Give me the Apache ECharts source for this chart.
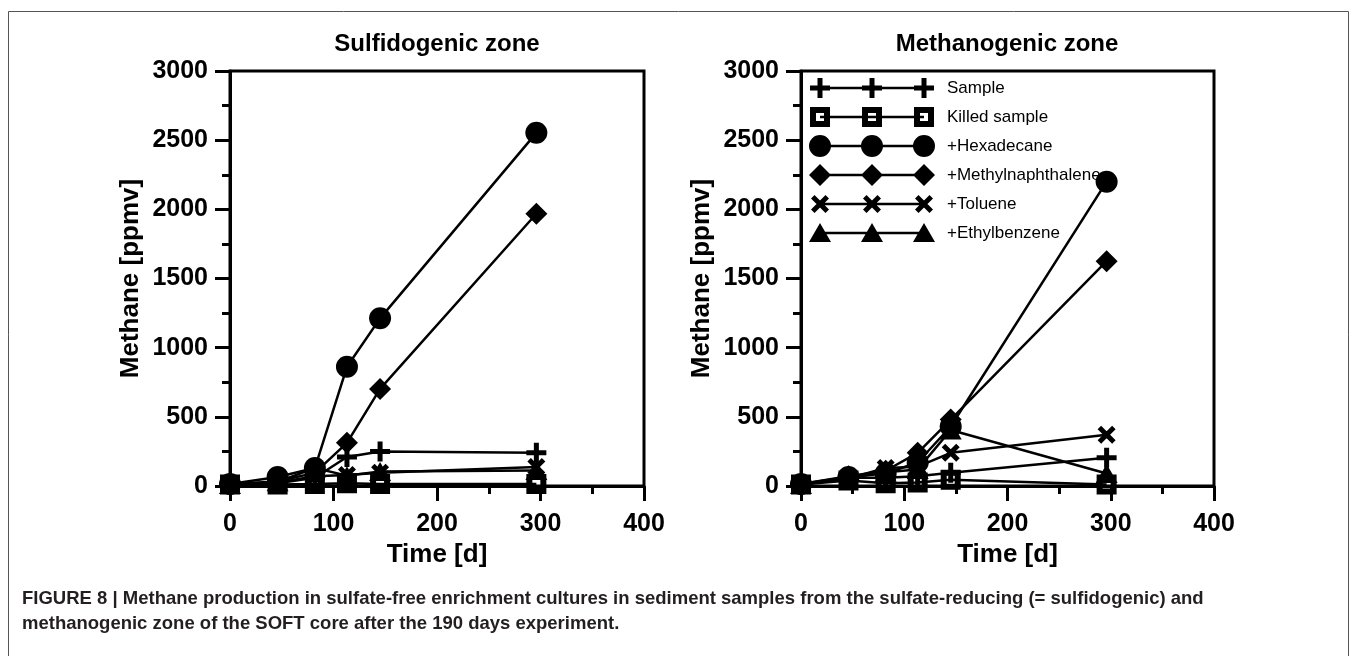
<!DOCTYPE html>
<html>
<head>
<meta charset="utf-8">
<script src="https://cdn.jsdelivr.net/npm/echarts@6/dist/echarts.min.js"></script>
<style>
html,body{margin:0;padding:0;background:#fff;}
#chart{width:1357px;height:656px;}
</style>
</head>
<body>
<div id="chart"></div>
<script>
// ---------- data ----------
const timeDays = [0, 46, 82, 113, 145, 296];
const seriesNames = ['Sample', 'Killed sample', '+Hexadecane', '+Methylnaphthalene', '+Toluene', '+Ethylbenzene'];
const panelTitles = ['Sulfidogenic zone', 'Methanogenic zone'];
const xTicks = [0, 100, 200, 300, 400];
const yTicks = [0, 500, 1000, 1500, 2000, 2500, 3000];

// Sulfidogenic zone (ppmv)
const sulfSample      = [10, 20, 60, 210, 250, 240];
const sulfKilled      = [10, 10, 15, 20, 15, 15];
const sulfHexadecane  = [15, 65, 130, 862, 1212, 2553];
const sulfMethylnaph  = [10, 35, 95, 312, 702, 1968];
const sulfToluene     = [10, 25, 70, 80, 95, 137];
const sulfEthylbenz   = [10, 30, 130, 75, 105, 112];

// Methanogenic zone (ppmv)
const methSample      = [10, 60, 60, 70, 95, 205];
const methKilled      = [10, 40, 20, 25, 45, 10];
const methHexadecane  = [15, 65, 90, 170, 430, 2200];
const methMethylnaph  = [15, 70, 110, 240, 480, 1625];
const methToluene     = [10, 55, 130, 140, 240, 370];
const methEthylbenz   = [10, 60, 100, 120, 405, 90];

const caption1 = 'FIGURE 8 | Methane production in sulfate-free enrichment cultures in sediment samples from the sulfate-reducing (= sulfidogenic) and';
const caption2 = 'methanogenic zone of the SOFT core after the 190 days experiment.';

// ---------- styling helpers ----------
const FONT = '"Liberation Sans", Arial, Helvetica, sans-serif';

function plusShape(cx, cy){ const a=10,t=2.5; return `M${cx-t},${cy-a} H${cx+t} V${cy-t} H${cx+a} V${cy+t} H${cx+t} V${cy+a} H${cx-t} V${cy+t} H${cx-a} V${cy-t} H${cx-t} Z `; }
function squareShape(cx, cy){ const a=10,b=4; return `M${cx-a},${cy-a} H${cx+a} V${cy+a} H${cx-a} Z M${cx-b},${cy-b} V${cy+b} H${cx+b} V${cy-b} Z `; }
function circleShape(cx, cy){ const r=11; return `M${cx-r},${cy} A${r},${r} 0 1,1 ${cx+r},${cy} A${r},${r} 0 1,1 ${cx-r},${cy} Z `; }
function diamondShape(cx, cy){ const r=11; return `M${cx},${cy-r} L${cx+r},${cy} L${cx},${cy+r} L${cx-r},${cy} Z `; }
function crossShape(cx, cy){ const a=9,t=3.5; return `M${cx-a},${cy-a+t} L${cx-a+t},${cy-a} L${cx+a},${cy+a-t} L${cx+a-t},${cy+a} Z M${cx+a-t},${cy-a} L${cx+a},${cy-a+t} L${cx-a+t},${cy+a} L${cx-a},${cy+a-t} Z `; }
function triangleShape(cx, cy){ return `M${cx},${cy-10} L${cx+11},${cy+9} L${cx-11},${cy+9} Z `; }
const shapeFns = [plusShape, squareShape, circleShape, diamondShape, crossShape, triangleShape];
const symbolSizes = [[20,20],[20,20],[22,22],[22,22],[18,18],[22,19]];

function seriesSymbol(i){
  const s = symbolSizes[i];
  const cy = (i===5) ? 10 : s[1]/2;
  return 'path://' + shapeFns[i](s[0]/2, cy);
}
function legendIcon(i){
  let p = 'M0,0 M126,22 ';
  p += 'M11,9.75 H115 V12.25 H11 Z ';
  [11, 63, 115].forEach(cx => { p += shapeFns[i](cx, 11); });
  return 'path://' + p;
}

function axisCommon(){
  return {
    axisLine: {show: true, onZero: false, lineStyle: {color: '#000', width: 3}},
    axisTick: {show: true, inside: false, length: 15, lineStyle: {color: '#000', width: 3}},
    minorTick: {show: true, splitNumber: 2, length: 8, lineStyle: {color: '#000', width: 3}},
    splitLine: {show: false},
    minorSplitLine: {show: false},
    axisLabel: {color: '#000', fontFamily: FONT, fontWeight: 'bold', fontSize: 25, formatter: v => String(v)},
    nameTextStyle: {color: '#000', fontFamily: FONT, fontWeight: 'bold', fontSize: 26}
  };
}

const grids = [
  {left: 230, top: 71, width: 414, height: 415, show: true, borderColor: '#000', borderWidth: 3, backgroundColor: 'transparent'},
  {left: 801, top: 71, width: 413, height: 415, show: true, borderColor: '#000', borderWidth: 3, backgroundColor: 'transparent'}
];

const xAxes = [0, 1].map(g => Object.assign(axisCommon(), {
  type: 'value', gridIndex: g, min: xTicks[0], max: xTicks[xTicks.length-1], interval: xTicks[1]-xTicks[0],
  name: 'Time [d]', nameLocation: 'middle', nameGap: 56
}));
xAxes.forEach(a => { a.axisLabel.margin = 26; });

const yAxes = [0, 1].map(g => Object.assign(axisCommon(), {
  type: 'value', gridIndex: g, min: yTicks[0], max: yTicks[yTicks.length-1], interval: yTicks[1]-yTicks[0],
  name: 'Methane [ppmv]', nameLocation: 'middle', nameGap: 86, nameRotate: 90
}));
yAxes.forEach(a => { a.axisLabel.margin = 22; });

const panelData = [
  [sulfSample, sulfKilled, sulfHexadecane, sulfMethylnaph, sulfToluene, sulfEthylbenz],
  [methSample, methKilled, methHexadecane, methMethylnaph, methToluene, methEthylbenz]
];

const series = [];
panelData.forEach((set, g) => {
  set.forEach((vals, i) => {
    series.push({
      name: seriesNames[i],
      type: 'line',
      xAxisIndex: g, yAxisIndex: g,
      data: timeDays.map((t, k) => [t, vals[k]]),
      symbol: seriesSymbol(i),
      symbolSize: symbolSizes[i],
      showAllSymbol: true,
      clip: false,
      lineStyle: {color: '#000', width: 2.5},
      itemStyle: {color: '#000', opacity: 1},
      emphasis: {disabled: true},
      z: 2 + i
    });
  });
});

const option = {
  animation: false,
  backgroundColor: '#fff',
  title: [
    {text: panelTitles[0], left: 437, top: 32, textAlign: 'center', padding: 0,
     textStyle: {color: '#000', fontFamily: FONT, fontWeight: 'bold', fontSize: 24}},
    {text: panelTitles[1], left: 1007, top: 32, textAlign: 'center', padding: 0,
     textStyle: {color: '#000', fontFamily: FONT, fontWeight: 'bold', fontSize: 24}}
  ],
  legend: {
    orient: 'vertical', left: 809, top: 77, padding: 0,
    itemWidth: 126, itemHeight: 22, itemGap: 7,
    selectedMode: false,
    textStyle: {color: '#000', fontFamily: FONT, fontSize: 17, padding: [0, 0, 0, 7]},
    data: seriesNames.map((n, i) => ({name: n, icon: legendIcon(i)}))
  },
  grid: grids,
  xAxis: xAxes,
  yAxis: yAxes,
  series: series,
  graphic: [
    {type: 'rect', shape: {x: 8.5, y: 11.5, width: 1340, height: 700}, style: {fill: 'none', stroke: '#555', lineWidth: 1}, silent: true, z: -1},
    {type: 'text', left: 22, top: 589, style: {text: caption1, fill: '#231f20', font: 'bold 18.5px ' + FONT}, silent: true},
    {type: 'text', left: 22, top: 614, style: {text: caption2, fill: '#231f20', font: 'bold 18.5px ' + FONT}, silent: true}
  ]
};

const chart = echarts.init(document.getElementById('chart'), null, {renderer: 'canvas'});
chart.setOption(option);
</script>
</body>
</html>
